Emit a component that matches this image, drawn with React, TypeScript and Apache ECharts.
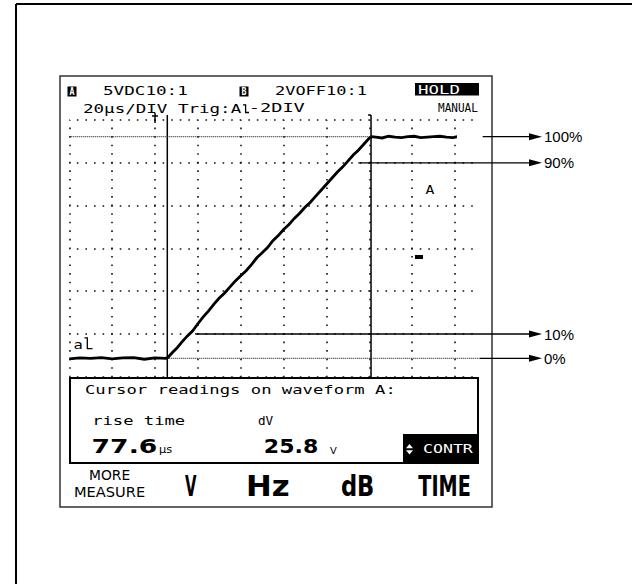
import React, { useEffect, useRef } from 'react';
import * as echarts from 'echarts';

// ---- waveform A (time in µs, value in V as read on screen) ----
const baseTimes = [-40, -35, -30, -25, -20, -15, -10, -5, 0, 5];
const baseVolts = [2.1, 2.2, 2.15, 2.25, 2.1, 2.2, 2.25, 2.05, 2.2, 2.15];
const riseTimes = [6, 8, 10, 12.5, 15, 17.5, 20, 22.5, 25, 27.5, 30, 32.5, 35, 37.5, 40, 42.5, 45, 47.5, 50, 52.5, 55, 57.5, 60, 62.5, 65, 67.5, 70, 72.5, 75, 77.5, 80, 82.5, 85, 87.5, 90, 92.5, 95, 97.5, 100, 101];
const riseVolts = [2.25, 2.8, 3.3, 4.05, 4.75, 5.35, 6.2, 7.0, 7.7, 8.5, 9.2, 9.8, 10.5, 11.2, 11.8, 12.4, 13.1, 13.9, 14.5, 15.1, 15.9, 16.5, 17.2, 17.8, 18.5, 19.1, 19.8, 20.4, 21.1, 21.8, 22.5, 23.2, 23.9, 24.5, 25.2, 25.9, 26.5, 27.2, 27.9, 28.05];
const topTimes = [103, 106, 109, 112, 115, 118, 121, 124, 127, 130, 133, 136, 139, 142, 145, 148, 151.6];
const topVolts = [28.0, 27.9, 28.1, 28.0, 27.95, 28.05, 28.1, 27.95, 28.0, 28.05, 28.1, 28.0, 27.95, 28.1, 28.0, 28.15, 28.05];

// ---- cursors & annotations ----
const cursorTimes = [5.73, 100.8]; // µs, vertical cursors
const cursorLevels = [28.05, 2.16]; // V, 100% and 0% horizontal cursors
const triggerTime = 0;
const arrowLevels = [28.05, 25.0, 5.0, 2.16];
const arrowStartTimes = [152.9, 94.9, 18.7, 151.6];
const arrowLabels = ['100%', '90%', '10%', '0%'];

// ---- axes (20 µs/DIV, 5 V/DIV) ----
const timeMin = -40, timeMax = 140, timeStep = 20;
const voltMin = 0, voltMax = 30, voltStep = 5;

// ---- screen texts ----
const headerTexts = ['5VDC10:1', '2VOFF10:1', 'HOLD', '20μs/DIV Trig:A', '-2DIV', 'MANUAL'];
const readoutTexts = ['Cursor readings on waveform A:', 'rise time', 'dV', '77.6', 'μs', '25.8', 'V', 'CONTR'];
const softKeys = ['MORE', 'MEASURE', 'V', 'Hz', 'dB', 'TIME'];

const MONO = 'DejaVu Sans Mono';
const SANS = 'DejaVu Sans';
const LABEL = 'Liberation Sans';

let ctx: CanvasRenderingContext2D | null = null;
function fitText(text: string, x0: number, x1: number, yc: number, size: number, weight: string, fill: string, family: string) {
  if (!ctx) ctx = document.createElement('canvas').getContext('2d');
  let s = 1, abl = 0;
  if (ctx) {
    ctx.font = `${weight} ${size}px "${family}"`;
    const m = ctx.measureText(text);
    abl = m.actualBoundingBoxLeft || 0;
    const w = abl + (m.actualBoundingBoxRight || m.width);
    s = (x1 - x0) / w;
  }
  return {
    type: 'text', x: x0 + abl * s, y: yc, scaleX: s, z: 50, silent: true,
    style: { text, x: 0, y: 0, fill, fontSize: size, fontFamily: family, fontWeight: weight, align: 'left', verticalAlign: 'middle' },
  };
}

export default function App() {
  const ref = useRef<HTMLDivElement>(null);
  useEffect(() => {
    const chart = echarts.init(ref.current!, null, { renderer: 'svg' });
    const DX = 42.86, DY = 42.8;
    const dotX = { color: '#111', width: 1.6, type: [1.6, DX / 5 - 1.6], dashOffset: 0.8, cap: 'butt' };
    const dotY = { color: '#111', width: 1.6, type: [1.6, DY / 5 - 1.6], dashOffset: 0.8, cap: 'butt' };
    const hidden = { axisLine: { show: false }, axisTick: { show: false }, axisLabel: { show: false } };
    const times = [...baseTimes, ...riseTimes, ...topTimes];
    const volts = [...baseVolts, ...riseVolts, ...topVolts];

    chart.setOption({
      animation: false,
      backgroundColor: '#fff',
      grid: [
        { left: 69.3, top: 120, width: 9 * DX, height: 6 * DY },
        { left: 69.3, top: 120, width: 404.2, height: 6 * DY },
      ],
      xAxis: [
        { type: 'value', gridIndex: 0, min: timeMin, max: timeMax, interval: timeStep, ...hidden, splitLine: { show: true, lineStyle: dotY } },
        { type: 'value', gridIndex: 1, min: 0, max: 1, ...hidden, splitLine: { show: false } },
      ],
      yAxis: [
        { type: 'value', gridIndex: 0, min: voltMin, max: voltMax, interval: voltStep, ...hidden, splitLine: { show: false } },
        { type: 'value', gridIndex: 1, min: voltMin, max: voltMax, interval: voltStep, ...hidden, splitLine: { show: true, lineStyle: dotX } },
      ],
      series: [
        {
          type: 'line', xAxisIndex: 0, yAxisIndex: 0, clip: false, silent: true, z: 5,
          showSymbol: false, symbol: 'none',
          lineStyle: { color: '#000', width: 2.8, join: 'miter' },
          data: times.map((t, i) => [t, volts[i]]),
        },
      ],
    });

    const P = (t: number, v: number) => chart.convertToPixel({ gridIndex: 0 }, [t, v]) as number[];
    const g: any[] = [];
    const line = (x1: number, y1: number, x2: number, y2: number, w = 1.5, stroke = '#000', dash?: number[]) =>
      g.push({ type: 'line', z: 40, silent: true, shape: { x1, y1, x2, y2 }, style: { stroke, lineWidth: w, lineDash: dash } });
    const rect = (x: number, y: number, width: number, height: number, style: any) =>
      g.push({ type: 'rect', z: 30, silent: true, shape: { x, y, width, height }, style });

    // page frame (left + top)
    line(16, 4, 632, 4, 2);
    line(16, 4, 16, 584, 2);
    // screen frame
    rect(60, 76, 432, 431, { fill: 'none', stroke: '#333', lineWidth: 1.5 });
    // readout box
    rect(70, 378, 408, 85, { fill: '#fff', stroke: '#000', lineWidth: 2 });
    // inverse boxes
    rect(67.5, 86.5, 9, 10, { fill: '#000' });
    rect(239.5, 86.5, 9, 10, { fill: '#000' });
    rect(415, 83, 64, 12.5, { fill: '#000' });
    rect(403, 434, 75, 28.5, { fill: '#000' });
    // channel B marker
    rect(415, 255, 8, 4, { fill: '#000' });

    // vertical cursors
    const xc0 = P(cursorTimes[0], 0)[0];
    const xc1 = P(cursorTimes[1], 0)[0];
    line(xc0, 115, xc0, 378, 1.5);
    line(xc1, 115, xc1, 378, 1.5);
    line(xc1 - 3, 115, xc1, 115, 1.5);
    // trigger marker
    const xt = P(triggerTime, 0)[0];
    line(xt, 113, xt, 123, 1.5);
    line(xt - 3, 116, xt + 3, 116, 1.5);

    // horizontal cursors (dense dotted)
    const y100 = P(0, cursorLevels[0])[1];
    const y0 = P(0, cursorLevels[1])[1];
    line(P(timeMin, 0)[0], y100, xc1, y100, 1.2, '#333', [1, 1]);
    line(xc0 + 2, y0, P(arrowStartTimes[3], 0)[0], y0, 1.2, '#333', [1, 1]);

    // annotation arrows
    arrowLevels.forEach((lv, i) => {
      const y = P(0, lv)[1];
      const xs = P(arrowStartTimes[i], 0)[0];
      line(xs, y, 530, y, 1.3);
      g.push({ type: 'polygon', z: 40, silent: true, shape: { points: [[529, y - 3.5], [542, y], [529, y + 3.5]] }, style: { fill: '#000' } });
      g.push({ type: 'text', z: 50, silent: true, x: 544, y, style: { text: arrowLabels[i], fill: '#000', fontSize: 15, fontFamily: LABEL, align: 'left', verticalAlign: 'middle' } });
    });

    // trig slope symbol and ground marker symbol
    g.push({ type: 'polyline', z: 40, silent: true, shape: { points: [[243, 104.8], [245.6, 104.8], [245.6, 112.5], [249, 112.5]] }, style: { stroke: '#000', lineWidth: 1.3, fill: 'none' } });
    g.push({ type: 'polyline', z: 40, silent: true, shape: { points: [[84.5, 337.8], [87.3, 337.8], [87.3, 348.6], [92.5, 348.6]] }, style: { stroke: '#000', lineWidth: 1.3, fill: 'none' } });
    // CONTR up/down symbol
    g.push({ type: 'polygon', z: 60, silent: true, shape: { points: [[406, 448.3], [413, 448.3], [409.5, 444]] }, style: { fill: '#fff' } });
    g.push({ type: 'polygon', z: 60, silent: true, shape: { points: [[406, 450.2], [413, 450.2], [409.5, 454.5]] }, style: { fill: '#fff' } });

    // texts
    g.push(fitText('A', 69.6, 74.6, 91.5, 10, 'bold', '#fff', MONO));
    g.push(fitText('B', 241.5, 246.5, 91.5, 10, 'bold', '#fff', MONO));
    g.push(fitText(headerTexts[0], 103, 188, 91.3, 11.5, 'normal', '#000', MONO));
    g.push(fitText(headerTexts[1], 275, 367, 91.3, 11.5, 'normal', '#000', MONO));
    g.push(fitText(headerTexts[2], 418, 460, 89.4, 11.5, 'normal', '#fff', MONO));
    g.push(fitText(headerTexts[3], 83, 241.5, 108.6, 11.5, 'normal', '#000', MONO));
    g.push(fitText(headerTexts[4], 252, 305, 108.6, 11.5, 'normal', '#000', MONO));
    g.push(fitText(headerTexts[5], 438, 478, 108.6, 11.5, 'normal', '#000', MONO));
    g.push(fitText('A', 425.5, 434.5, 190, 11.5, 'normal', '#000', MONO));
    g.push(fitText('a', 73.5, 82.5, 344.3, 12, 'normal', '#000', MONO));

    g.push(fitText(readoutTexts[0], 85, 393, 389.8, 12, 'normal', '#000', MONO));
    g.push(fitText(readoutTexts[1], 95, 185, 420.8, 12, 'normal', '#000', MONO));
    g.push(fitText(readoutTexts[2], 258, 273, 420.8, 12, 'normal', '#000', MONO));
    g.push(fitText(readoutTexts[3], 93, 157, 446.4, 19, 'bold', '#000', SANS));
    g.push(fitText(readoutTexts[4], 159, 172, 449.6, 10, 'normal', '#000', SANS));
    g.push(fitText(readoutTexts[5], 265, 318, 446.4, 19, 'bold', '#000', SANS));
    g.push(fitText(readoutTexts[6], 330, 337, 450.3, 8.5, 'normal', '#000', SANS));
    g.push(fitText(readoutTexts[7], 423, 473, 449.2, 11.5, 'normal', '#fff', MONO));

    g.push(fitText(softKeys[0], 90, 130, 475.3, 14.5, 'normal', '#000', SANS));
    g.push(fitText(softKeys[1], 75, 145, 491.2, 14.5, 'normal', '#000', SANS));
    g.push(fitText(softKeys[2], 185, 196.7, 486.4, 28, 'bold', '#000', SANS));
    g.push(fitText(softKeys[3], 248.3, 288.3, 486.4, 28, 'bold', '#000', SANS));
    g.push(fitText(softKeys[4], 341.7, 373.3, 486.4, 28, 'bold', '#000', SANS));
    g.push(fitText(softKeys[5], 418.3, 470, 486.4, 28, 'bold', '#000', SANS));

    chart.setOption({ graphic: g });
    return () => chart.dispose();
  }, []);
  return <div ref={ref} style={{ position: 'absolute', left: 0, top: 0, width: 632, height: 584 }} />;
}
